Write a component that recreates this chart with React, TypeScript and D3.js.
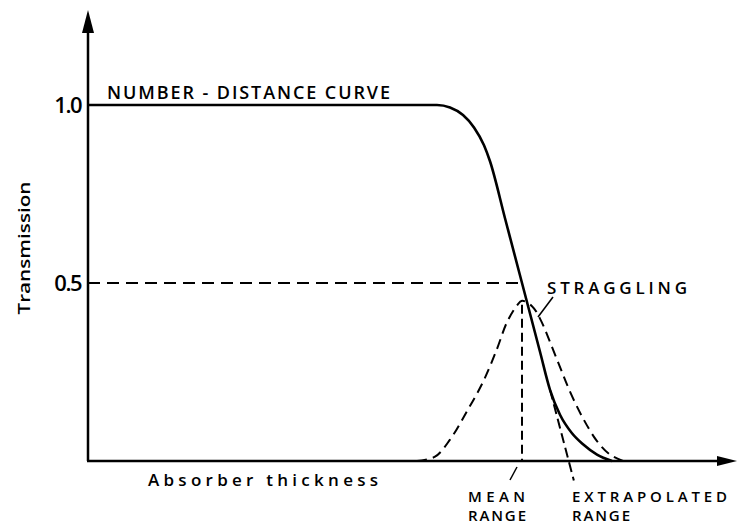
import React from "react";
import * as d3 from "d3";

// Data (x in arbitrary absorber-thickness units, y = transmission)
const numberDistanceX = [0, 200, 349, 362, 375, 386, 396, 402, 417, 434, 452, 462, 472, 484, 495, 509, 524];
const numberDistanceY = [1.0, 1.0, 1.0, 0.993, 0.972, 0.937, 0.887, 0.842, 0.682, 0.5, 0.307, 0.2, 0.13, 0.078, 0.047, 0.018, 0];
const stragglingX = [329, 347, 362, 379, 395, 409, 419, 429, 434, 444, 452, 469, 482, 495, 509, 522, 535];
const stragglingY = [0, 0.012, 0.06, 0.14, 0.222, 0.315, 0.39, 0.437, 0.45, 0.435, 0.4, 0.285, 0.195, 0.12, 0.056, 0.018, 0];
const yTicks = [0.5, 1.0];
const yTickLabels = ["0.5", "1.0"];
const meanRange = 434;
const extrapolatedRange = 480.7;
const extrapolatedSlope = -0.0107; // per x unit
const peakValue = 0.45;

const W = 737;
const H = 525;

export default function App() {
  const x = d3.scaleLinear().domain([0, 640]).range([88, 728]);
  const y = d3.scaleLinear().domain([0, 1]).range([461, 105]);

  const solid = numberDistanceX.map((v, i) => [v, numberDistanceY[i]] as [number, number]);
  const gauss = stragglingX.map((v, i) => [v, stragglingY[i]] as [number, number]);

  const solidLine = d3
    .line<[number, number]>()
    .x((d) => x(d[0]))
    .y((d) => y(d[1]))
    .curve(d3.curveMonotoneX);
  const gaussLine = d3
    .line<[number, number]>()
    .x((d) => x(d[0]))
    .y((d) => y(d[1]))
    .curve(d3.curveCatmullRom.alpha(0.5));

  const x0 = x(0);
  const yBase = y(0);
  const xEnd = W;
  const font = "'Open Sans', 'DejaVu Sans', sans-serif";
  const fw = 600;

  const eTop = 0.2;
  const eBot = -0.055;
  const exTop = extrapolatedRange - eTop / -extrapolatedSlope;
  const exBot = extrapolatedRange - eBot / -extrapolatedSlope;

  const xm = x(meanRange);

  return (
    <svg width={W} height={H} style={{ position: "absolute", left: 0, top: 0, background: "#fff" }}>
      <line x1={x0} x2={x0} y1={yBase} y2={28} stroke="#000" strokeWidth={2.5} />
      <path d={`M${x0 - 6},${33} L${x0},${10} L${x0 + 6},${33} Z`} fill="#000" />
      <line x1={x0 - 1} x2={xEnd - 16} y1={yBase} y2={yBase} stroke="#000" strokeWidth={2.5} />
      <path d={`M${xEnd - 20},${yBase - 5} L${xEnd},${yBase} L${xEnd - 20},${yBase + 5} Z`} fill="#000" />

      {yTicks.map((t, i) => (
        <text
          key={t}
          x={x0 - 7}
          y={y(t) + 8}
          textAnchor="end"
          fontFamily={font}
          fontWeight={fw}
          fontSize={22}
          letterSpacing={-1.5}
          fill="#000"
        >
          {yTickLabels[i]}
        </text>
      ))}
      <text
        transform={`translate(30,248) rotate(-90)`}
        textAnchor="middle"
        fontFamily={font}
        fontWeight={fw}
        fontSize={16}
        textLength={133}
        lengthAdjust="spacingAndGlyphs"
        fill="#000"
      >
        Transmission
      </text>
      <text x={148} y={486} fontFamily={font} fontWeight={fw} fontSize={17} textLength={230} lengthAdjust="spacing" fill="#000">
        Absorber thickness
      </text>

      <line x1={x0} x2={xm} y1={y(0.5)} y2={y(0.5)} stroke="#000" strokeWidth={2} strokeDasharray="12 7" />
      <line
        x1={xm}
        x2={xm}
        y1={y(peakValue) + 4}
        y2={yBase}
        stroke="#000"
        strokeWidth={2}
        strokeDasharray="9 5"
      />
      <line x1={xm - 5} y1={yBase + 6} x2={xm - 12} y2={yBase + 19} stroke="#000" strokeWidth={1.5} />

      <path d={gaussLine(gauss) || ""} fill="none" stroke="#000" strokeWidth={2} strokeDasharray="10 6" />
      <path d={solidLine(solid) || ""} fill="none" stroke="#000" strokeWidth={2.6} />

      <line
        x1={x(exTop)}
        y1={y(eTop)}
        x2={x(exBot)}
        y2={y(eBot)}
        stroke="#000"
        strokeWidth={2}
        strokeDasharray="10 5"
      />

      <line x1={553} y1={297} x2={538} y2={317} stroke="#000" strokeWidth={1.5} />

      <text x={107} y={99} fontFamily={font} fontWeight={fw} fontSize={18} textLength={283} lengthAdjust="spacing" fill="#000">
        NUMBER - DISTANCE CURVE
      </text>
      <text x={547} y={294} fontFamily={font} fontWeight={fw} fontSize={17} textLength={140} lengthAdjust="spacing" fill="#000">
        STRAGGLING
      </text>
      <text x={468} y={502} fontFamily={font} fontWeight={fw} fontSize={15} textLength={57} lengthAdjust="spacing" fill="#000">
        MEAN
      </text>
      <text x={468} y={521} fontFamily={font} fontWeight={fw} fontSize={15} textLength={58} lengthAdjust="spacing" fill="#000">
        RANGE
      </text>
      <text x={572} y={502} fontFamily={font} fontWeight={fw} fontSize={15} textLength={155} lengthAdjust="spacing" fill="#000">
        EXTRAPOLATED
      </text>
      <text x={572} y={521} fontFamily={font} fontWeight={fw} fontSize={15} textLength={58} lengthAdjust="spacing" fill="#000">
        RANGE
      </text>
    </svg>
  );
}
